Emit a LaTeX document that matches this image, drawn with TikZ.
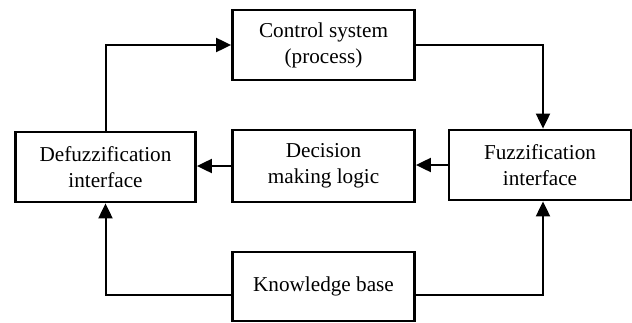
\documentclass[tikz,border=0pt]{standalone}
\usepackage{fontspec}
\setmainfont{Liberation Serif}
\usetikzlibrary{arrows.meta, positioning}

\begin{document}
\begin{tikzpicture}[x=0.5pt, y=-0.5pt, >={Triangle[length=7.5pt, width=7pt]}]
	\tikzstyle{block} = [draw, line width=1.4pt, minimum width=91pt, minimum height=35pt, inner sep=2pt, align=center, font=\fontsize{10.6}{13}\selectfont]
	\tikzstyle{link} = [->, line width=1pt]

	\useasboundingbox (0,0) rectangle (632,322);

	\node[block] (ctrl) at (323.5,45) {Control system\\(process)};
	\node[block, minimum width=90pt] (defuzz) at (105.5,167) {Defuzzification\\interface};
	\node[block, minimum height=36pt] (decide) at (323.5,166) {Decision\\making logic};
	\node[block] (fuzz) at (540,165) {Fuzzification\\interface};
	\node[block, minimum height=34.5pt] (know) at (323.5,286.5) {Knowledge base};

	\draw[link] (defuzz.north) |- (ctrl.west);
	\draw[link] (ctrl.east) -| ([xshift=1.5pt]fuzz.north);
	\draw[link] (fuzz.west) -- (decide.east |- fuzz.west);
	\draw[link] (decide.west) -- (defuzz.east |- decide.west);
	\draw[link] ([yshift=-4pt]know.west) -| (defuzz.south);
	\draw[link] ([yshift=-4pt]know.east) -| ([xshift=1.5pt]fuzz.south);
\end{tikzpicture}
\end{document}
